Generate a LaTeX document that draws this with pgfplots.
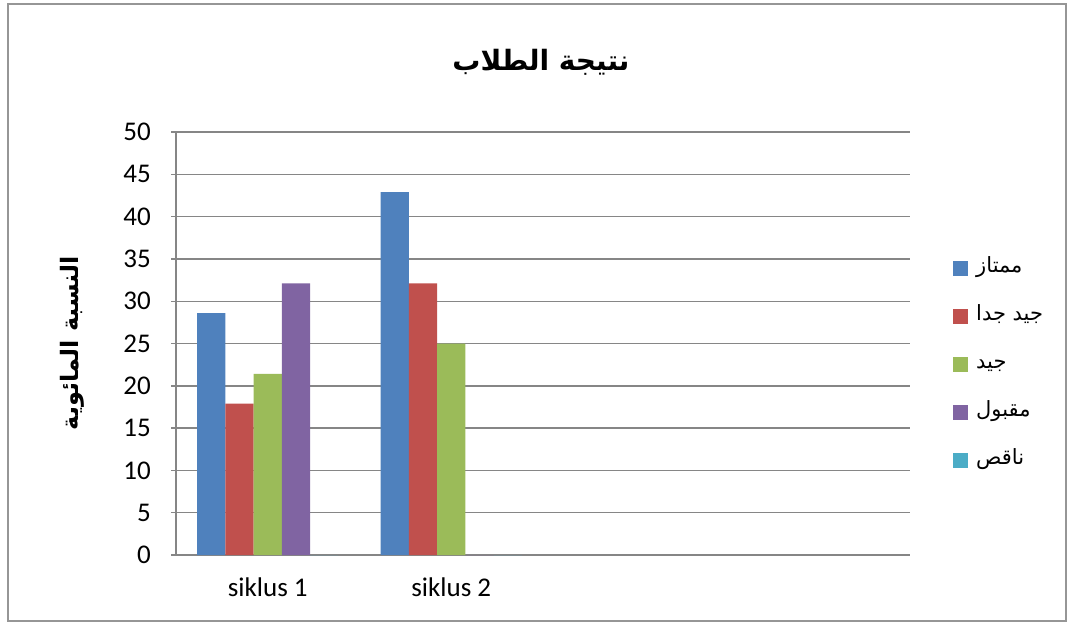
\documentclass[border=0pt]{standalone}
\usepackage{pgfplots}
\pgfplotsset{compat=1.18}
\usepackage{fontspec}
\setmainfont{Carlito}
\newfontfamily\arabicfont[Script=Arabic]{DejaVu Sans}
\TeXXeTstate=1
\definecolor{cblue}{HTML}{4F81BD}
\definecolor{cred}{HTML}{C0504D}
\definecolor{cgreen}{HTML}{9BBB59}
\definecolor{cpurple}{HTML}{8064A2}
\definecolor{ccyan}{HTML}{4BACC6}
\definecolor{gridgray}{HTML}{868686}
\definecolor{framegray}{HTML}{969696}
\begin{document}
\begin{tikzpicture}[x=1pt,y=1pt]
\path (0,0) rectangle (1067,624);
\begin{axis}[
  at={(176pt,69pt)}, anchor=south west,
  scale only axis, width=734pt, height=423pt,
  xmin=-0.5, xmax=3.5, ymin=0, ymax=50,
  ytick={0,5,...,50},
  xtick={0,1}, xticklabels={siklus 1, siklus 2},
  major x tick style={draw=none},
  ybar, bar width=0.1538,
  ymajorgrids, grid style={draw=gridgray, line width=1.4pt},
  axis x line*=bottom, axis y line*=left,
  axis line style={-, draw=gridgray, line width=1.4pt},
  tick align=outside, major tick length=5pt,
  y tick style={draw=gridgray, line width=1.4pt},
  tick label style={font=\fontsize{27}{30}\selectfont},
  /pgf/number format/assume math mode=true,
  yticklabel style={inner sep=0pt, xshift=-20pt},
  xticklabel style={inner sep=0pt, yshift=-18pt},
  legend style={at={(1.0586,0.702)}, anchor=north west, draw=none, fill=none,
    inner sep=0pt, row sep=28pt,
    nodes={inner sep=2pt, text height=12pt, text depth=4pt, font=\arabicfont\fontsize{21}{23}\selectfont}},
  legend cell align=left,
  legend image code/.code={\fill[#1] (0pt,-7.5pt) rectangle (15pt,7.5pt); \path (21pt,0pt);},
]
\addplot[fill=cblue, draw=none, bar shift=-0.3077] coordinates {(0,28.6) (1,42.9)};
\addlegendentry{\beginR ممتاز\endR}
\addplot[fill=cred, draw=none, bar shift=-0.1538] coordinates {(0,17.9) (1,32.1)};
\addlegendentry{\beginR جيد جدا\endR}
\addplot[fill=cgreen, draw=none, bar shift=0] coordinates {(0,21.4) (1,25.0)};
\addlegendentry{\beginR جيد\endR}
\addplot[fill=cpurple, draw=none, bar shift=0.1538] coordinates {(0,32.1) (1,0)};
\addlegendentry{\beginR مقبول\endR}
\addplot[fill=ccyan, draw=none, bar shift=0.3077] coordinates {(0,0) (1,0)};
\addlegendentry{\beginR ناقص\endR}
\end{axis}
\node at (541,562) {\arabicfont\bfseries\fontsize{28}{30}\selectfont\beginR نتيجة الطلاب\endR};
\node[rotate=90] at (72,281) {\arabicfont\bfseries\fontsize{24}{26}\selectfont\beginR النسبة المائوية\endR};
\draw[draw=framegray, line width=1.5pt] (8,3) rectangle (1066,620);
\end{tikzpicture}
\end{document}
